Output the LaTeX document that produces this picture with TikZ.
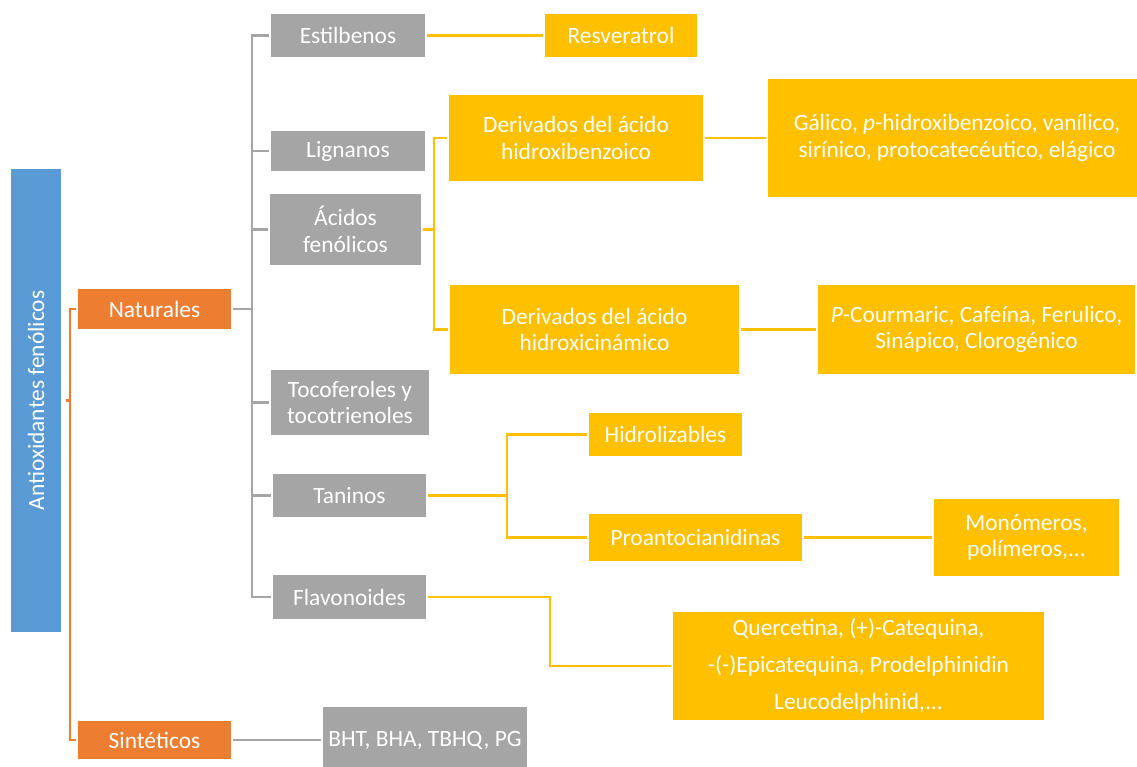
\documentclass[tikz,border=0pt]{standalone}
\usepackage{fontspec}
\setmainfont{Carlito}
\usetikzlibrary{backgrounds}
\definecolor{cblue}{HTML}{5B9BD5}
\definecolor{corange}{HTML}{ED7D31}
\definecolor{cgray}{HTML}{A5A5A5}
\definecolor{cyellow}{HTML}{FFC000}
\begin{document}
\begin{tikzpicture}[x=1pt,y=-1pt,
  base/.style={rectangle, draw=white, line width=1.2pt, inner sep=0pt,
    align=center, text=white, font=\fontsize{23.4}{26.7}\selectfont},
  bluebox/.style={base, fill=cblue},
  orbox/.style={base, fill=corange},
  graybox/.style={base, fill=cgray},
  yelbox/.style={base, fill=cyellow},
  link/.style={line width=2.6pt},
  glink/.style={link, draw=cgray},
  olink/.style={link, draw=corange},
  ylink/.style={link, draw=cyellow}]
\useasboundingbox (0,0) rectangle (1137,766);

% root and first level
\node[bluebox, rotate=90, minimum width=465pt, minimum height=52pt] (anti) at (36,400.5) {Antioxidantes fenólicos};
\node[orbox, minimum width=155pt, minimum height=42pt] (nat) at (154.5,309) {Naturales};
\node[orbox, minimum width=155pt, minimum height=40pt] (sin) at (154.5,740) {Sintéticos};

% families of natural antioxidants
\node[graybox, minimum width=156pt, minimum height=45pt] (est) at (348,35.5) {Estilbenos};
\node[graybox, minimum width=156pt, minimum height=42pt] (lig) at (348,151) {Lignanos};
\node[graybox, minimum width=153pt, minimum height=73pt] (aci) at (345.5,229.5) {Ácidos\\fenólicos};
\node[graybox, minimum width=160pt, minimum height=67pt] (toc) at (350,402.5) {Tocoferoles y\\tocotrienoles};
\node[graybox, minimum width=155pt, minimum height=45pt] (tan) at (349.5,495.5) {Taninos};
\node[graybox, minimum width=155pt, minimum height=46pt] (fla) at (349.5,597) {Flavonoides};
\node[graybox, minimum width=206pt, minimum height=68pt] (bht) at (425,740) {BHT, BHA, TBHQ, PG};

% sub-classes and examples
\node[yelbox, minimum width=154pt, minimum height=45pt] (res) at (621,35.5) {Resveratrol};
\node[yelbox, minimum width=256pt, minimum height=88pt] (dhb) at (576,138) {Derivados del ácido\\hidroxibenzoico};
\node[yelbox, minimum width=380pt, minimum height=120pt] (gal) at (957,138) {Gálico, \textit{p}-hidroxibenzoico, vanílico,\\sirínico, protocatecéutico, elágico};
\node[yelbox, minimum width=291pt, minimum height=91pt] (dhc) at (594.5,329.5) {Derivados del ácido\\hidroxicinámico};
\node[yelbox, minimum width=319pt, minimum height=91pt] (pco) at (976.5,329.5) {\textit{P}-Courmaric, Cafeína, Ferulico,\\Sinápico, Clorogénico};
\node[yelbox, minimum width=155pt, minimum height=45pt] (hid) at (665.5,434.5) {Hidrolizables};
\node[yelbox, minimum width=215pt, minimum height=49pt] (pro) at (695.5,537.5) {Proantocianidinas};
\node[yelbox, minimum width=187pt, minimum height=79pt] (mon) at (1026.5,537.5) {Monómeros,\\polímeros,...};
\node[yelbox, minimum width=373pt, minimum height=110pt, font=\fontsize{23.4}{37}\selectfont] (que) at (858.5,666) {Quercetina, (+)-Catequina,\\-(-)Epicatequina, Prodelphinidin\\Leucodelphinid,...};

% vertical rails of the brackets
\coordinate (ox) at (70,0);
\coordinate (gx) at (252,0);
\coordinate (ax) at (434,0);
\coordinate (tx) at (507,0);
\coordinate (fx) at (550,0);

\begin{scope}[on background layer]
  \draw[olink, shorten <=3pt] (anti.south) -- (anti.south -| ox);
  \draw[olink] (nat.west) -- (nat.west -| ox) -- (sin.west -| ox) -- (sin.west);

  \draw[glink] (nat.east) -- (nat.east -| gx);
  \draw[glink] (est.west) -- (est.west -| gx) -- (fla.west -| gx) -- (fla.west);
  \draw[glink] (lig.west) -- (lig.west -| gx);
  \draw[glink] (aci.west) -- (aci.west -| gx);
  \draw[glink] (toc.west) -- (toc.west -| gx);
  \draw[glink] (tan.west) -- (tan.west -| gx);
  \draw[glink] (sin.east) -- (bht.west);

  \draw[ylink] (est.east) -- (res.west);
  \draw[ylink] (aci.east) -- (aci.east -| ax);
  \draw[ylink] (dhb.west) -- (dhb.west -| ax) -- (dhc.west -| ax) -- (dhc.west);
  \draw[ylink] (dhb.east) -- (gal.west);
  \draw[ylink] (dhc.east) -- (pco.west);
  \draw[ylink] (tan.east) -- (tan.east -| tx);
  \draw[ylink] (hid.west) -- (hid.west -| tx) -- (pro.west -| tx) -- (pro.west);
  \draw[ylink] (pro.east) -- (mon.west);
  \draw[ylink] (fla.east) -- (fla.east -| fx) -- (que.west -| fx) -- (que.west);
\end{scope}
\end{tikzpicture}
\end{document}
